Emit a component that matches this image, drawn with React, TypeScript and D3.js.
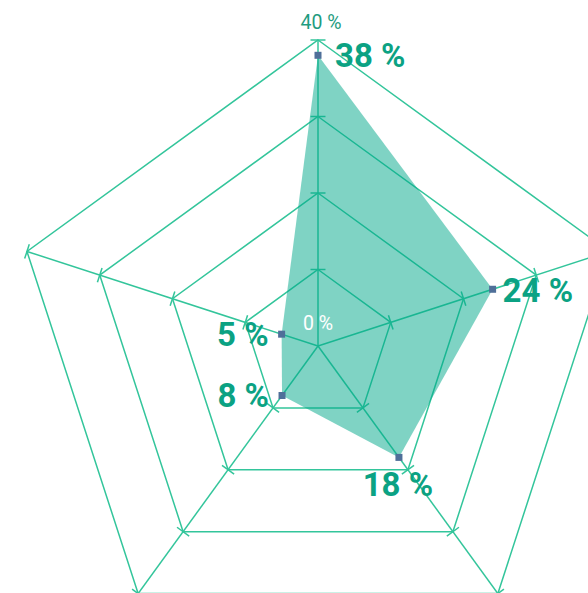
import React from "react";
import * as d3 from "d3";

const categories = ["A", "B", "C", "D", "E"];
const values = [38, 24, 18, 8, 5];
const ringLevels = [10, 20, 30, 40];
const maxValue = 40;
const tickLabels = ["0 %", "40 %"];
// label placement per axis: [dx, dy, anchor]
const labelPlacement: [number, number, string][] = [
  [17, 0, "start"],
  [10, 1, "start"],
  [-1, 27, "middle"],
  [-13, 0, "end"],
  [-13, 0, "end"],
];

const W = 588;
const H = 593;
const cx = 318;
const cy = 346;
const R = 306;

export default function App() {
  const r = d3.scaleLinear().domain([0, maxValue]).range([0, R]);
  const n = categories.length;
  const angle = (i: number) => (i * 2 * Math.PI) / n;
  const pt = (i: number, v: number): [number, number] => [
    cx + r(v) * Math.sin(angle(i)),
    cy - r(v) * Math.cos(angle(i)),
  ];
  const line = d3.line<[number, number]>().curve(d3.curveLinearClosed);
  const stroke = "#33c59b";
  const ticks: JSX.Element[] = [];
  categories.forEach((_, i) => {
    ringLevels.forEach((lv) => {
      const [x, y] = pt(i, lv);
      const a = angle(i);
      const px = Math.cos(a) * 7.5;
      const py = Math.sin(a) * 7.5;
      ticks.push(
        <line key={`t${i}-${lv}`} x1={x - px} y1={y - py} x2={x + px} y2={y + py} stroke={stroke} strokeWidth={1.5} />
      );
    });
  });
  const dataPts = values.map((v, i) => pt(i, v));
  return (
    <svg width={W} height={H} style={{ position: "fixed", left: 0, top: 0, background: "#fff" }} fontFamily="Roboto, sans-serif">
      {ringLevels.map((lv) => (
        <path key={lv} d={line(categories.map((_, i) => pt(i, lv))) || ""} fill="none" stroke={stroke} strokeWidth={1.5} />
      ))}
      {categories.map((_, i) => {
        const [x, y] = pt(i, maxValue);
        return <line key={`a${i}`} x1={cx} y1={cy} x2={x} y2={y} stroke={stroke} strokeWidth={1.5} />;
      })}
      {ticks}
      <path d={line(dataPts) || ""} fill="#00a88a" fillOpacity={0.5} stroke="none" />
      {dataPts.map(([x, y], i) => (
        <rect key={`m${i}`} x={x - 3.5} y={y - 3.5} width={7} height={7} fill="#4f6f99" />
      ))}
      <text x={cx + 3} y={pt(0, maxValue)[1] - 11} textAnchor="middle" fontSize={19.5} fill="#1f9c80">{tickLabels[1]}</text>
      <text x={cx} y={cy - 16} textAnchor="middle" fontSize={19.5} fill="#ffffff">{tickLabels[0]}</text>
      {dataPts.map(([x, y], i) => {
        const [dx, dy, anchor] = labelPlacement[i];
        return (
          <text key={`l${i}`} x={x + dx} y={y + dy} dy="0.36em" textAnchor={anchor as any} fontSize={33} fontWeight="bold" fill="#0ba283">
            {values[i]} %
          </text>
        );
      })}
    </svg>
  );
}
